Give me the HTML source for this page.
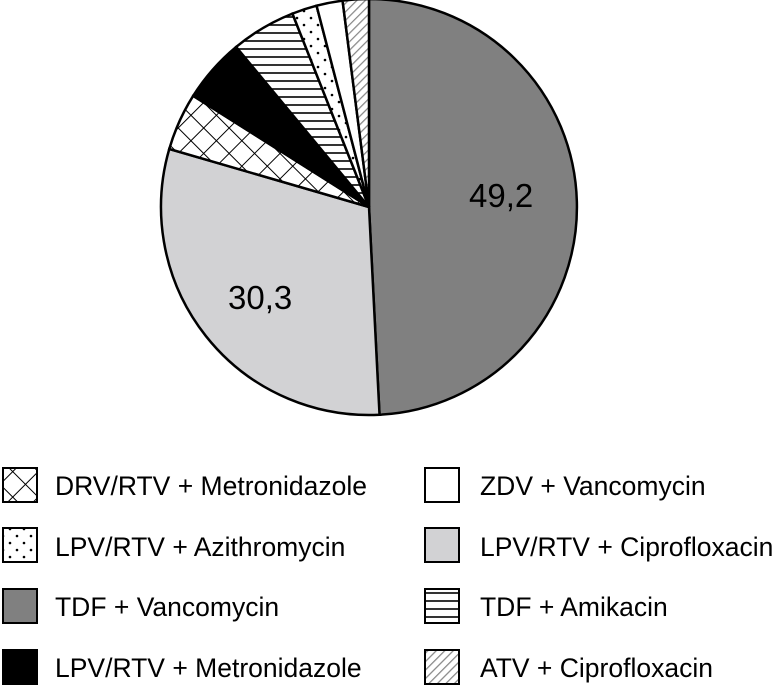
<!DOCTYPE html>
<html><head><meta charset="utf-8"><style>
html,body{margin:0;padding:0;background:#fff;}
svg{display:block;}
text{font-family:"Liberation Sans",sans-serif;font-size:26.5px;fill:#000;}
.big{font-size:33px;}
</style></head><body>
<svg width="775" height="687" viewBox="0 0 775 687" xmlns="http://www.w3.org/2000/svg">
<defs>
<pattern id="cross" width="18" height="18" patternUnits="userSpaceOnUse" patternTransform="rotate(45)">
<rect width="18" height="18" fill="#fff"/>
<path d="M0 0H18M0 0V18" stroke="#000" stroke-width="2"/>
</pattern>
<pattern id="horiz" width="10" height="8" patternUnits="userSpaceOnUse">
<rect width="10" height="8" fill="#fff"/>
<path d="M0 1H10" stroke="#000" stroke-width="1.6"/>
</pattern>
<pattern id="dots" width="14" height="14" patternUnits="userSpaceOnUse">
<rect width="14" height="14" fill="#fff"/>
<circle cx="3" cy="4" r="1.3" fill="#000"/><circle cx="10" cy="11" r="1.3" fill="#000"/>
</pattern>
<pattern id="hatch" width="6" height="6" patternUnits="userSpaceOnUse" patternTransform="rotate(45)">
<rect width="6" height="6" fill="#fff"/>
<path d="M0 0V6" stroke="#888" stroke-width="2.5"/>
</pattern>
</defs>
<g stroke="#000" stroke-width="2.5" id="pie"></g>
<text class="big" x="469" y="207">49,2</text>
<text class="big" x="228" y="309">30,3</text>
<g stroke="#000" stroke-width="2">
<rect x="3" y="468" width="34" height="34" fill="url(#cross)"/>
<rect x="3" y="528" width="34" height="34" fill="url(#dots)"/>
<rect x="3" y="589" width="34" height="34" fill="#808080"/>
<rect x="3" y="650" width="34" height="34" fill="#000"/>
<rect x="425" y="468" width="34" height="34" fill="#fff"/>
<rect x="425" y="528" width="34" height="34" fill="#d2d2d4"/>
<rect x="425" y="589" width="34" height="34" fill="url(#horiz)"/>
<rect x="425" y="650" width="34" height="34" fill="url(#hatch)"/>
</g>
<text x="55" y="495">DRV/RTV + Metronidazole</text>
<text x="55" y="556">LPV/RTV + Azithromycin</text>
<text x="55" y="616">TDF + Vancomycin</text>
<text x="55" y="677">LPV/RTV + Metronidazole</text>
<text x="480" y="495">ZDV + Vancomycin</text>
<text x="480" y="556">LPV/RTV + Ciprofloxacin</text>
<text x="480" y="616">TDF + Amikacin</text>
<text x="480" y="677">ATV + Ciprofloxacin</text>
</svg>
<script>
var cx=369,cy=207,r=208;
var s=[[0,177.1,"#808080"],[177.1,286.2,"#d2d2d4"],[286.2,302.3,"url(#cross)"],[302.3,320.3,"#000"],[320.3,338.4,"url(#horiz)"],[338.4,345.4,"url(#dots)"],[345.4,352.7,"#fff"],[352.7,360,"url(#hatch)"]];
var g=document.getElementById("pie"),h="";
function p(a){a=a*Math.PI/180;return (cx+r*Math.sin(a)).toFixed(2)+" "+(cy-r*Math.cos(a)).toFixed(2);}
s.forEach(function(d){h+='<path d="M'+cx+' '+cy+'L'+p(d[0])+'A'+r+' '+r+' 0 '+((d[1]-d[0])>180?1:0)+' 1 '+p(d[1])+'Z" fill="'+d[2]+'"/>';});
g.innerHTML=h;
</script>
</body></html>
